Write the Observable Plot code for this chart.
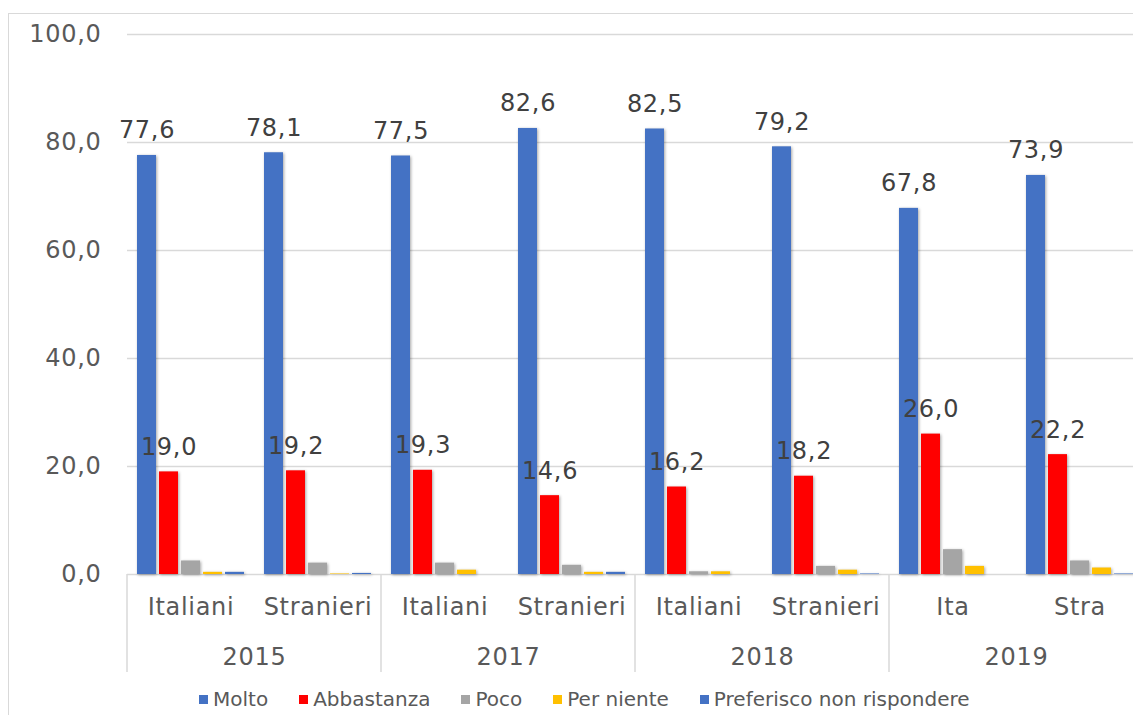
<!DOCTYPE html>
<html><head><meta charset="utf-8">
<script src="https://cdn.jsdelivr.net/npm/d3@7"></script>
<script src="https://cdn.jsdelivr.net/npm/@observablehq/plot@0.6"></script>
<style>
html,body{margin:0;padding:0;background:#fff;overflow:hidden;width:1133px;height:715px}
#wrap{position:relative;width:1133px;height:715px;overflow:hidden;font-family:"DejaVu Sans",Verdana,sans-serif}
#border{position:absolute;left:8px;top:13px;width:2000px;height:1000px;border-left:1.5px solid #d9d9d9;border-top:1.5px solid #d9d9d9}
#chart{position:absolute;left:0;top:0;width:1145px}
#chart svg{max-width:none !important}
#chart svg text{letter-spacing:0.7px}
#legend{position:absolute;left:199px;top:687px;display:flex;align-items:center;font-size:20px;color:#595959;white-space:nowrap}
.item{display:flex;align-items:center;margin-right:31px}
.sw{width:9px;height:9px;margin-right:5px}
g[aria-label="bar"] rect{filter:drop-shadow(1.5px 1px 1.5px rgba(0,0,0,0.35))}
</style></head>
<body>
<div id="wrap"><div id="border"></div><div id="chart"></div><div id="legend"></div></div>
<script>
// ---- data ----
const years = ["2015","2015","2017","2017","2018","2018","2019","2019"];
const categories = ["Italiani","Stranieri","Italiani","Stranieri","Italiani","Stranieri","Ita","Stra"];
const series = ["Molto","Abbastanza","Poco","Per niente","Preferisco non rispondere"];
const molto = [77.6, 78.1, 77.5, 82.6, 82.5, 79.2, 67.8, 73.9];
const abbastanza = [19.0, 19.2, 19.3, 14.6, 16.2, 18.2, 26.0, 22.2];
const poco = [2.5, 2.1, 2.1, 1.7, 0.5, 1.5, 4.6, 2.5];
const perNiente = [0.4, 0.1, 0.8, 0.4, 0.5, 0.8, 1.5, 1.2];
const preferisco = [0.4, 0.2, 0.0, 0.4, 0.0, 0.1, 0.0, 0.1];
const yTicks = [0, 20, 40, 60, 80, 100];
const colors = ["#4472C4", "#FF0000", "#A5A5A5", "#FFC000", "#4472C4"];
const labelledSeries = ["Molto", "Abbastanza"];

// ---- build table ----
const values = [molto, abbastanza, poco, perNiente, preferisco];
const keys = categories.map((c, i) => years[i] + " " + c);
const rows = [];
series.forEach((s, j) => keys.forEach((k, i) => rows.push({key: k, series: s, value: values[j][i]})));
const fmt = d => d.toFixed(1).replace(".", ",");
const yearKeys = keys.filter((_, i) => i % 2 === 0);

const plot = Plot.plot({
  width: 1145, height: 684,
  marginTop: 34, marginBottom: 110, marginLeft: 125, marginRight: 0,
  style: {fontFamily: "'DejaVu Sans', Verdana, sans-serif", fontSize: "24px", color: "#595959", background: "transparent", overflow: "visible", maxWidth: "none"},
  fx: {domain: keys, padding: 0, axis: null, label: null},
  x: {domain: series, paddingInner: 0.15, paddingOuter: 0.41, axis: null},
  y: {domain: [0, 100], axis: null, label: null},
  color: {domain: series, range: colors},
  marks: [
    Plot.gridY(yTicks, {stroke: "#d9d9d9", strokeOpacity: 1, strokeWidth: 1.3}),
    Plot.axisY(yTicks, {tickSize: 0, tickPadding: 26, tickFormat: fmt, fontSize: 24, fill: "#595959", label: null}),
    Plot.barY(rows, {fx: "key", x: "series", y: "value", fill: "series"}),
    Plot.text(rows.filter(d => labelledSeries.includes(d.series)), {
      fx: "key", x: "series", y: "value", text: d => fmt(d.value),
      lineAnchor: "bottom", dy: -17, fill: "#404040", fontSize: 24
    }),
    Plot.axisFx({anchor: "bottom", tickSize: 0, tickPadding: 23, tickFormat: k => k.split(" ")[1], fontSize: 24, fill: "#595959", label: null}),
    Plot.text(yearKeys, {fx: d => d, frameAnchor: "bottom-right", textAnchor: "middle", lineAnchor: "top", dy: 73,
      text: d => d.split(" ")[0], fontSize: 24, fill: "#595959"})
  ]
});

// separators between year groups, positioned through the plot's own scales
const fxS = plot.scale("fx");
const yS = plot.scale("y");
const svg = d3.select(plot);
const y0 = yS.apply(0);
yearKeys.forEach(k => {
  const x = fxS.apply(k);
  svg.append("line").attr("x1", x).attr("x2", x).attr("y1", y0).attr("y2", y0 + 98)
    .attr("stroke", "#d9d9d9").attr("stroke-width", 1.5);
});
document.getElementById("chart").appendChild(plot);

// legend
const leg = d3.select("#legend");
series.forEach((s, i) => {
  const it = leg.append("div").attr("class", "item");
  it.append("div").attr("class", "sw").style("background", colors[i]);
  it.append("span").text(s);
});
</script>
</body></html>
